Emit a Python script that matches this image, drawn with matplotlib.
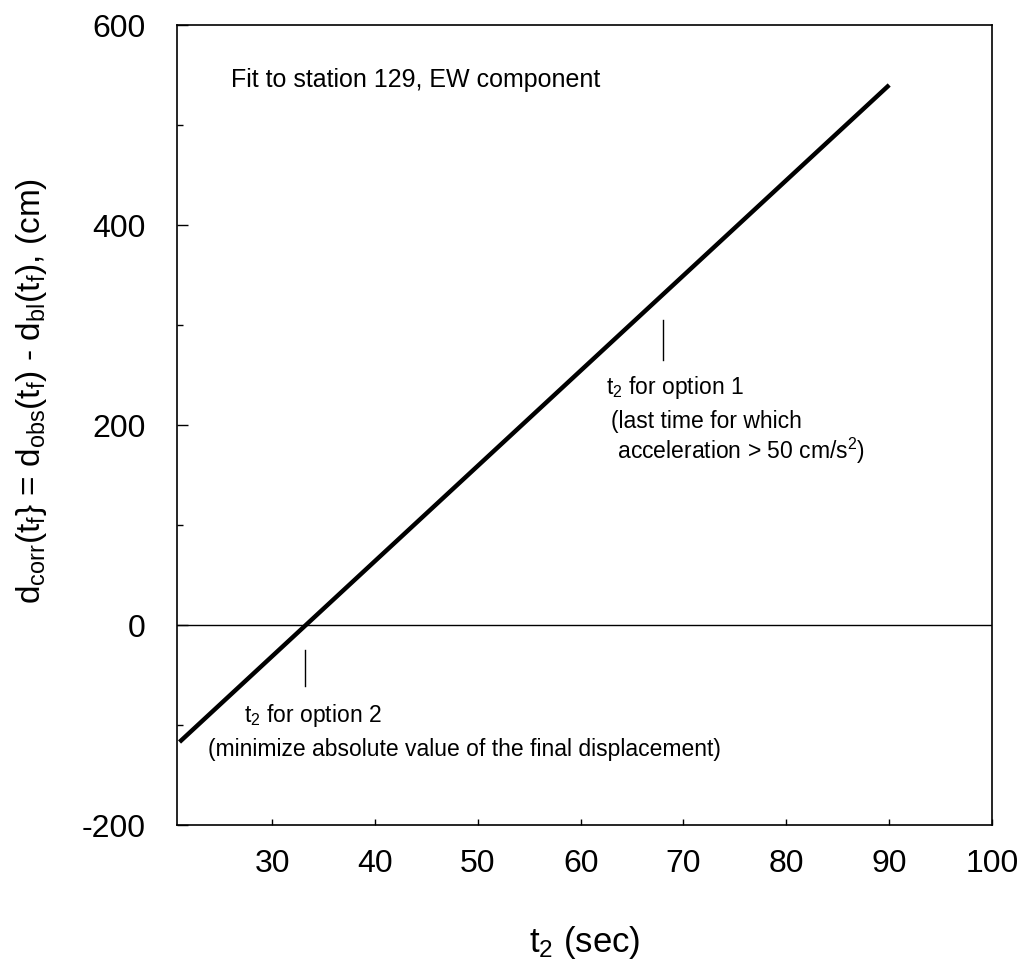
import numpy as np
import matplotlib.pyplot as plt

# fit line for station 129, EW component
t2 = [21, 90]
dcorr = [-117, 540]

# marker positions for the two options
opt1_t2 = 68.0
opt1_y = [265, 305]
opt2_t2 = 33.2
opt2_y = [-61, -25]

plt.rcParams['font.family'] = ['Liberation Sans', 'DejaVu Sans']
plt.rcParams['mathtext.default'] = 'regular'
plt.rcParams['axes.unicode_minus'] = False

fig = plt.figure(figsize=(10.24, 9.69), dpi=100)
ax = fig.add_axes([0.1733, 0.1486, 0.7955, 0.8256])

ax.plot(t2, dcorr, color='black', linewidth=3.2, solid_capstyle='butt')
ax.axhline(0, color='black', linewidth=1.0)
ax.plot([opt1_t2, opt1_t2], opt1_y, color='black', linewidth=1.0)
ax.plot([opt2_t2, opt2_t2], opt2_y, color='black', linewidth=1.0)

ax.set_xlim(20.8, 100)
ax.set_ylim(-200, 600)
ax.set_xticks([30, 40, 50, 60, 70, 80, 90, 100])
ax.set_yticks([-200, 0, 200, 400, 600])
ax.set_yticks([-100, 100, 300, 500], minor=True)
ax.tick_params(axis='x', direction='in', length=4, width=1, labelsize=23, pad=17)
ax.tick_params(axis='y', which='major', direction='in', length=8, width=1, labelsize=23, pad=23)
ax.tick_params(axis='y', which='minor', direction='in', length=4.5, width=1)
for s in ax.spines.values():
    s.set_linewidth(1.2)

ax.set_xlabel('t$_2$ (sec)', fontsize=25, labelpad=33)
ax.set_ylabel('d$_{corr}$(t$_f$} = d$_{obs}$(t$_f$) - d$_{bl}$(t$_f$), (cm)', fontsize=24)
ax.yaxis.set_label_coords(-0.158, 0.543)

ax.text(26.0, 545, 'Fit to station 129, EW component', fontsize=18, va='center')
ax.text(62.5, 238, 't$_2$ for option 1', fontsize=16.5, va='center')
ax.text(63.0, 204, '(last time for which', fontsize=16.5, va='center')
ax.text(63.0, 174, ' acceleration > 50 cm/s$^2$)', fontsize=16.5, va='center')
ax.text(27.3, -90, 't$_2$ for option 2', fontsize=16.5, va='center')
ax.text(23.8, -124, '(minimize absolute value of the final displacement)', fontsize=16.5, va='center')

fig.savefig('out.png', dpi=100)
